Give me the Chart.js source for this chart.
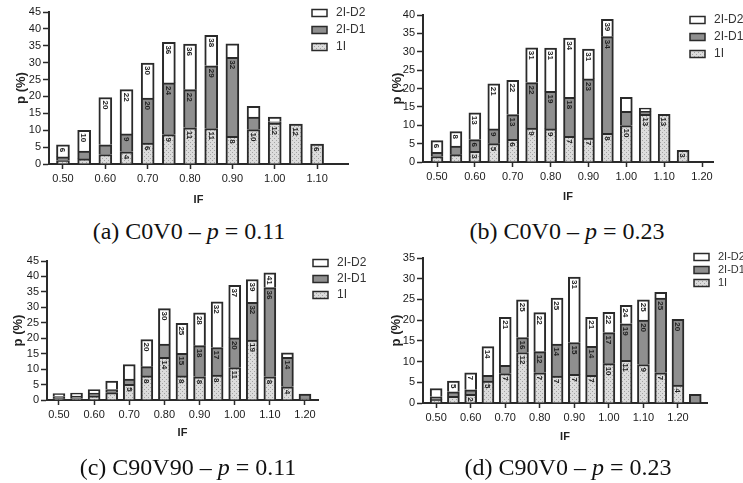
<!DOCTYPE html>
<html>
<head>
<meta charset="utf-8">
<script src="https://cdn.jsdelivr.net/npm/chart.js@4.4.0/dist/chart.umd.min.js"></script>
<style>
  body { margin: 0; background: #fff; }
  #page { position: relative; width: 743px; height: 483px; overflow: hidden; background: #fff; }
  canvas { position: absolute; }
  .cap { position: absolute; width: 320px; text-align: center; font-family: "Liberation Serif", "Times New Roman", serif; font-size: 24px; color: #111; line-height: 26px; white-space: nowrap; }
</style>
</head>
<body>
<div id="page">
  <canvas id="ca" width="370" height="215" style="left:0;top:0"></canvas>
  <canvas id="cb" width="373" height="215" style="left:370px;top:0"></canvas>
  <canvas id="cc" width="370" height="215" style="left:0;top:245px"></canvas>
  <canvas id="cd" width="373" height="215" style="left:370px;top:245px"></canvas>
  <div class="cap" style="left:29px;top:218px">(a) C0V0 – <i>p</i> = 0.11</div>
  <div class="cap" style="left:407px;top:218px">(b) C0V0 – <i>p</i> = 0.23</div>
  <div class="cap" style="left:28px;top:454px">(c) C90V90 – <i>p</i> = 0.11</div>
  <div class="cap" style="left:408px;top:454px">(d) C90V0 – <i>p</i> = 0.23</div>
</div>
<script>
// ---- (a) C0V0, p = 0.11 ----
const ifA   = [0.50, 0.55, 0.60, 0.65, 0.70, 0.75, 0.80, 0.85, 0.90, 0.95, 1.00, 1.05, 1.10];
const a1I   = [1.0, 1.5, 2.8, 3.6, 6.2, 8.7, 10.7, 10.5, 8.2, 10.2, 12.1, 11.8, 5.9];
const aD1   = [1.1, 2.3, 2.9, 5.3, 13.3, 15.3, 11.3, 18.6, 23.4, 3.7, 0.4, 0, 0];
const aD2   = [3.6, 6.2, 14.0, 13.1, 10.4, 12.0, 13.5, 9.0, 4.0, 3.2, 1.4, 0, 0];
const aLab1I = [null, null, null, 4, 6, 9, 11, 11, 8, 10, 12, 12, 6];
const aLabD1 = [null, null, null, 9, 20, 24, 22, 29, 32, null, null, null, null];
const aLabD2 = [6, 10, 20, 22, 30, 36, 36, 38, null, null, null, null, null];
const ticksA = [0.50, 0.60, 0.70, 0.80, 0.90, 1.00, 1.10];

// ---- (b) C0V0, p = 0.23 ----
const ifB   = [0.50, 0.55, 0.60, 0.65, 0.70, 0.75, 0.80, 0.85, 0.90, 0.95, 1.00, 1.05, 1.10, 1.15, 1.20];
const b1I   = [1.5, 2.0, 2.9, 5.0, 6.2, 9.2, 9.0, 7.0, 6.5, 7.8, 9.9, 13.0, 13.0, 3.2, 0];
const bD1   = [1.1, 2.3, 3.2, 4.0, 6.7, 12.4, 10.2, 10.6, 16.1, 26.3, 3.9, 0.8, 0, 0, 0];
const bD2   = [3.2, 4.0, 7.3, 12.3, 9.3, 9.5, 11.8, 16.1, 8.1, 4.7, 3.8, 0.9, 0, 0, 0];
const bLab1I = [null, null, 3, 5, 6, 9, 9, 7, 7, 8, 10, 13, 13, 3, null];
const bLabD1 = [null, null, 6, 9, 13, 22, 19, 18, 23, 34, null, null, null, null, null];
const bLabD2 = [6, 8, 13, 21, 22, 31, 31, 34, 31, 39, null, null, null, null, null];
const ticksB = [0.50, 0.60, 0.70, 0.80, 0.90, 1.00, 1.10, 1.20];

// ---- (c) C90V90, p = 0.11 ----
const ifC   = [0.50, 0.55, 0.60, 0.65, 0.70, 0.75, 0.80, 0.85, 0.90, 0.95, 1.00, 1.05, 1.10, 1.15, 1.20];
const c1I   = [0.5, 0.5, 1.3, 2.4, 5.1, 7.8, 13.8, 7.8, 7.5, 8.1, 10.5, 19.4, 7.5, 4.3, 0.3];
const cD1   = [0.6, 0.8, 0.9, 1.0, 1.7, 3.0, 4.3, 7.3, 10.1, 8.9, 9.6, 12.2, 28.9, 9.5, 1.6];
const cD2   = [1.0, 0.9, 1.2, 2.7, 4.7, 8.8, 11.5, 9.7, 10.6, 14.8, 17.0, 7.4, 4.8, 1.5, 0];
const cLab1I = [null, null, null, null, 5, 8, 14, 8, 8, 8, 11, 19, 8, 4, null];
const cLabD1 = [null, null, null, null, null, null, null, 15, 18, 17, 20, 32, 36, 14, null];
const cLabD2 = [null, null, null, null, null, 20, 30, 25, 28, 32, 37, 39, 41, null, null];
const ticksC = [0.50, 0.60, 0.70, 0.80, 0.90, 1.00, 1.10, 1.20];

// ---- (d) C90V0, p = 0.23 ----
const ifD   = [0.50, 0.55, 0.60, 0.65, 0.70, 0.75, 0.80, 0.85, 0.90, 0.95, 1.00, 1.05, 1.10, 1.15, 1.20, 1.25];
const d1I   = [0.8, 1.6, 2.1, 5.3, 7.1, 12.2, 7.3, 6.5, 6.9, 6.7, 9.5, 10.3, 9.3, 7.3, 4.3, 0];
const dD1   = [0.7, 1.1, 1.1, 1.4, 2.0, 3.6, 5.1, 7.7, 7.7, 7.0, 7.5, 8.8, 10.7, 18.0, 15.9, 2.1];
const dD2   = [2.0, 2.6, 4.1, 6.9, 11.6, 9.1, 9.4, 11.1, 15.8, 7.0, 4.9, 4.5, 4.9, 1.4, 0, 0];
const dLab1I = [null, null, 2, 5, 7, 12, 7, 7, 7, 7, 10, 11, 9, 7, 4, null];
const dLabD1 = [null, null, null, null, null, 16, 12, 14, 15, 14, 17, 19, 20, 25, 20, null];
const dLabD2 = [null, 5, 7, 14, 21, 25, 22, 25, 31, 21, 22, 24, 25, null, null, null];
const ticksD = [0.50, 0.60, 0.70, 0.80, 0.90, 1.00, 1.10, 1.20];

const seriesNames = ["1I", "2I-D1", "2I-D2"];

const INK = "#2a2a2a";
const SANS = '"Liberation Sans", Arial, sans-serif';

// light grey fill with fine dots for the 1I segments
function dottedFill() {
    const c = document.createElement("canvas");
    c.width = 4; c.height = 4;
    const g = c.getContext("2d");
    g.fillStyle = "#dcdcdc";
    g.fillRect(0, 0, 4, 4);
    g.fillStyle = "#a3a3a3";
    g.fillRect(0, 0, 1, 1);
    g.fillRect(2, 2, 1, 1);
    return g.createPattern(c, "repeat");
}
const fills = [dottedFill(), "#8f8f8f", "#ffffff"];

// numbers written vertically just under the top of each segment
const segLabels = {
    id: "segLabels",
    afterDatasetsDraw(chart) {
        const ctx = chart.ctx;
        ctx.save();
        ctx.font = "bold 8px " + SANS;
        ctx.fillStyle = "#222";
        ctx.textAlign = "left";
        ctx.textBaseline = "middle";
        chart.data.datasets.forEach((ds, i) => {
            const meta = chart.getDatasetMeta(i);
            ds.tags.forEach((t, j) => {
                if (t == null) return;
                const bar = meta.data[j];
                ctx.save();
                ctx.translate(bar.x, bar.y + 3);
                ctx.rotate(Math.PI / 2);
                ctx.fillText(String(t), 0, 0.5);
                ctx.restore();
            });
        });
        ctx.restore();
    }
};

// small box legend, top item = last dataset
const boxLegend = {
    id: "boxLegend",
    afterDraw(chart, args, o) {
        const ctx = chart.ctx;
        const items = chart.data.datasets.slice().reverse();
        ctx.save();
        ctx.font = o.size + "px " + SANS;
        ctx.textBaseline = "middle";
        items.forEach((ds, k) => {
            const y = o.y + k * o.gap;
            ctx.fillStyle = ds.backgroundColor;
            ctx.fillRect(o.x, y - 3.5, 15, 7);
            ctx.strokeStyle = INK;
            ctx.lineWidth = 1.5;
            ctx.strokeRect(o.x, y - 3.5, 15, 7);
            ctx.fillStyle = "#333";
            ctx.fillText(ds.label, o.x + 24, y);
        });
        ctx.restore();
    }
};

function drawPanel(id, xs, s1, s2, s3, t1, t2, t3, xTicks, yMax, g) {
    const sets = [s1, s2, s3].map((vals, i) => ({
        label: seriesNames[i],
        data: xs.map((x, j) => ({ x: x, y: vals[j] })),
        tags: [t1, t2, t3][i],
        backgroundColor: fills[i],
        borderColor: INK,
        borderWidth: { top: 2, left: 2, right: 2, bottom: 0 },
        borderSkipped: false,
        barThickness: g.bar
    }));
    const canvas = document.getElementById(id);
    return new Chart(canvas.getContext("2d"), {
        type: "bar",
        data: { datasets: sets },
        options: {
            responsive: false,
            animation: false,
            layout: { padding: { left: 0, top: g.top, right: canvas.width - g.right, bottom: 0 } },
            plugins: {
                legend: { display: false },
                tooltip: { enabled: false },
                boxLegend: g.legend
            },
            scales: {
                x: {
                    type: "linear",
                    stacked: true,
                    offset: false,
                    min: g.xmin,
                    max: g.xmax,
                    afterBuildTicks: s => { s.ticks = xTicks.map(v => ({ value: v })); },
                    afterFit: s => { s.height = canvas.height - g.bottom; },
                    ticks: {
                        callback: v => v.toFixed(2),
                        font: { family: SANS, size: 11 },
                        color: "#1a1a1a",
                        padding: 3,
                        maxRotation: 0,
                        autoSkip: false
                    },
                    grid: { drawOnChartArea: false, offset: false, tickLength: 5, tickWidth: 1.5, tickColor: INK },
                    border: { display: true, color: INK, width: 2 },
                    title: {
                        display: true,
                        text: "IF",
                        font: { family: SANS, size: 11, weight: "bold" },
                        color: "#222",
                        padding: { top: 0, bottom: g.ifPad }
                    }
                },
                y: {
                    stacked: true,
                    min: 0,
                    max: yMax,
                    afterFit: s => { s.width = g.left; },
                    ticks: {
                        stepSize: 5,
                        autoSkip: false,
                        font: { family: SANS, size: 11 },
                        color: "#1a1a1a",
                        padding: 2
                    },
                    grid: { drawOnChartArea: false, tickLength: 6, tickWidth: 1.5, tickColor: INK },
                    border: { display: true, color: INK, width: 2 },
                    title: {
                        display: true,
                        text: "p (%)",
                        font: { family: SANS, size: 13, weight: "bold" },
                        color: "#222",
                        padding: { top: g.pPad, bottom: 0 }
                    }
                }
            }
        },
        plugins: [segLabels, boxLegend]
    });
}

drawPanel("ca", ifA, a1I, aD1, aD2, aLab1I, aLabD1, aLabD2, ticksA, 45,
    { left: 49, right: 348, top: 12, bottom: 164, xmin: 0.467, xmax: 1.173, bar: 13,
      ifPad: 8, pPad: 14, legend: { x: 312, y: 13, gap: 17, size: 12 } });
drawPanel("cb", ifB, b1I, bD1, bD2, bLab1I, bLabD1, bLabD2, ticksB, 40,
    { left: 53, right: 343, top: 15, bottom: 162, xmin: 0.463, xmax: 1.229, bar: 12,
      ifPad: 11, pPad: 20, legend: { x: 320, y: 20, gap: 17, size: 12 } });
drawPanel("cc", ifC, c1I, cD1, cD2, cLab1I, cLabD1, cLabD2, ticksC, 45,
    { left: 47, right: 318, top: 16, bottom: 155, xmin: 0.466, xmax: 1.237, bar: 12,
      ifPad: 20, pPad: 11, legend: { x: 313, y: 18, gap: 16, size: 12 } });
drawPanel("cd", ifD, d1I, dD1, dD2, dLab1I, dLabD1, dLabD2, ticksD, 35,
    { left: 53, right: 337, top: 13, bottom: 158, xmin: 0.462, xmax: 1.284, bar: 12,
      ifPad: 16, pPad: 19, legend: { x: 324, y: 12, gap: 13, size: 11 } });
</script>
</body>
</html>
